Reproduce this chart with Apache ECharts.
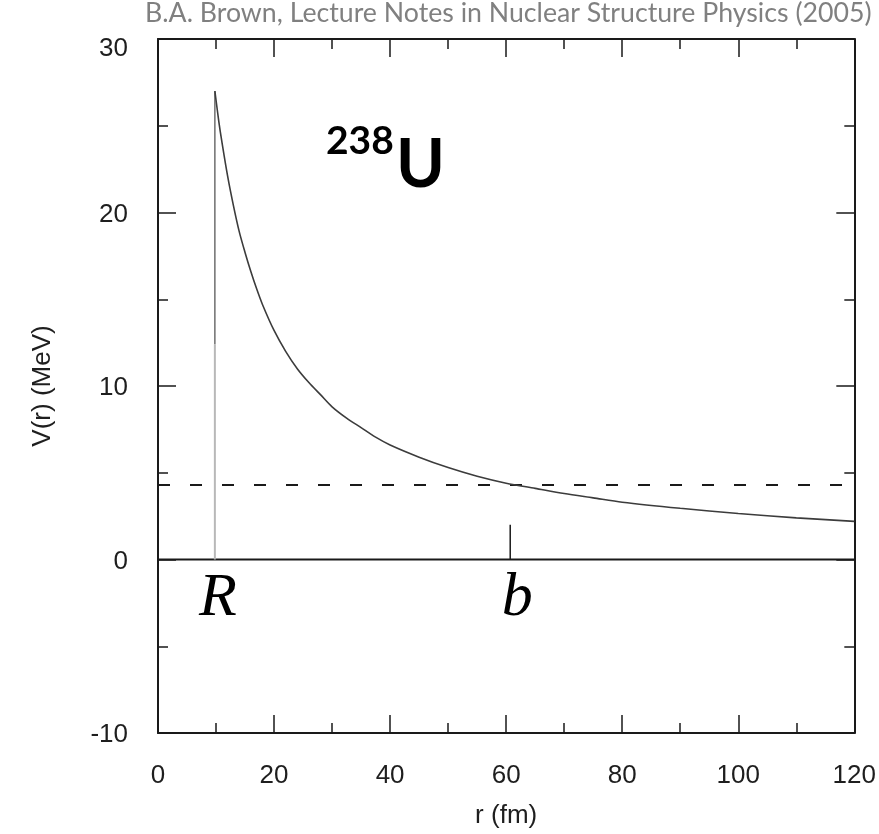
<!DOCTYPE html>
<html>
<head>
<meta charset="utf-8">
<script src="https://cdn.jsdelivr.net/npm/echarts@6/dist/echarts.min.js"></script>
<style>
  html, body { margin: 0; padding: 0; background: #ffffff; }
  #chart { width: 879px; height: 834px; }
</style>
</head>
<body>
<div id="chart"></div>
<script>
// Coulomb barrier of an alpha particle against the 238U daughter nucleus
const radiusFm = [9.8, 10.5, 11, 12, 13, 14, 15, 16, 17, 18, 20, 22, 24, 26, 28, 30, 32.5, 35, 37.5, 40, 45, 50, 55, 60, 65, 70, 75, 80, 90, 100, 110, 120];
const potentialMeV = [27.0, 25.2, 24.1, 22.1, 20.4, 18.9, 17.7, 16.6, 15.6, 14.7, 13.2, 12.0, 11.0, 10.2, 9.5, 8.8, 8.15, 7.6, 7.05, 6.6, 5.9, 5.3, 4.8, 4.4, 4.1, 3.8, 3.55, 3.3, 2.95, 2.65, 2.4, 2.2];

// nuclear surface R: the wall rises from 0 to the barrier top
const nuclearRadius = 9.8;
const wallLowerTop = 12.4;
const barrierTop = 27.0;

// alpha decay energy level and outer turning point b
const decayEnergy = 4.3;
const turningPoint = 60.7;
const turningTickHeight = 2.0;

const xRange = [0, 120];
const yRange = [-10, 30];
const xStep = 20;
const yStep = 10;

const titleText = 'B.A. Brown, Lecture Notes in Nuclear Structure Physics (2005)';
const xName = 'r (fm)';
const yName = 'V(r) (MeV)';
const massNumber = '238';
const element = 'U';

const chart = echarts.init(document.getElementById('chart'), null, { renderer: 'canvas' });

const curve = radiusFm.map((r, i) => [r, potentialMeV[i]]);

const tickFont = 'Liberation Sans, Arial, sans-serif';

function axisCommon(showLabels) {
  return {
    type: 'value',
    axisLine: { show: true, onZero: false, lineStyle: { color: '#1a1a1a', width: 2 } },
    axisTick: { show: true, inside: true, length: 18, lineStyle: { color: '#1a1a1a', width: 1.5 } },
    minorTick: { show: true, splitNumber: 2, length: 10, lineStyle: { color: '#1a1a1a', width: 1.5 } },
    splitLine: { show: false },
    minorSplitLine: { show: false },
    axisLabel: { show: showLabels, fontSize: 26, color: '#1e1e1e', fontFamily: tickFont, margin: 30 },
    nameTextStyle: { fontSize: 26, color: '#1e1e1e', fontFamily: tickFont }
  };
}

const yAxisLeft = Object.assign(axisCommon(true), {
  position: 'left', min: yRange[0], max: yRange[1], interval: yStep,
  name: yName, nameLocation: 'middle', nameGap: 102, nameRotate: 90
});
// the top label sits a little below the frame corner
yAxisLeft.axisLabel.formatter = (v) => (v === yRange[1] ? '{top|' + v + '}' : '{std|' + v + '}');
yAxisLeft.axisLabel.rich = {
  top: { fontSize: 26, fontFamily: tickFont, color: '#1e1e1e', padding: [20, 0, 0, 0] },
  std: { fontSize: 26, fontFamily: tickFont, color: '#1e1e1e', padding: [4, 0, 0, 0] }
};

const option = {
  animation: false,
  backgroundColor: '#ffffff',
  grid: { left: 158, right: 23, top: 39, bottom: 99, containLabel: false },
  xAxis: [
    Object.assign(axisCommon(true), {
      position: 'bottom', min: xRange[0], max: xRange[1], interval: xStep,
      name: xName, nameLocation: 'middle', nameGap: 70
    }),
    Object.assign(axisCommon(false), {
      position: 'top', min: xRange[0], max: xRange[1], interval: xStep
    })
  ],
  yAxis: [
    yAxisLeft,
    Object.assign(axisCommon(false), {
      position: 'right', min: yRange[0], max: yRange[1], interval: yStep
    })
  ],
  series: [
    {
      name: 'zero',
      type: 'line', silent: true, symbol: 'none',
      data: [[xRange[0], 0], [xRange[1], 0]],
      lineStyle: { color: '#1a1a1a', width: 2 }
    },
    {
      name: 'decay energy',
      type: 'line', silent: true, symbol: 'none',
      data: [[xRange[0], decayEnergy], [xRange[1], decayEnergy]],
      lineStyle: { color: '#1a1a1a', width: 2, type: [12, 20] }
    },
    {
      name: 'turning point',
      type: 'line', silent: true, symbol: 'none',
      data: [[turningPoint, 0], [turningPoint, turningTickHeight]],
      lineStyle: { color: '#1a1a1a', width: 1.5 }
    },
    {
      name: 'wall lower',
      type: 'line', silent: true, symbol: 'none',
      data: [[nuclearRadius, 0], [nuclearRadius, wallLowerTop]],
      lineStyle: { color: '#b8b8b8', width: 2 }
    },
    {
      name: 'wall upper',
      type: 'line', silent: true, symbol: 'none',
      data: [[nuclearRadius, wallLowerTop], [nuclearRadius, barrierTop]],
      lineStyle: { color: '#6e6e6e', width: 1.5 }
    },
    {
      name: 'Coulomb potential',
      type: 'line', silent: true, symbol: 'none',
      smooth: 0.3,
      data: curve,
      lineStyle: { color: '#3c3c3c', width: 1.6 }
    }
  ]
};

chart.setOption(option);

// fit the source line to the width above the frame
const measure = document.createElement('canvas').getContext('2d');
const titleFamily = 'Lato, "Open Sans", sans-serif';
measure.font = '24px Lato';
const titleWidth = measure.measureText(titleText).width;
const titleSize = Math.min(27, 24 * 727 / titleWidth);

const rPix = chart.convertToPixel({ xAxisIndex: 0, yAxisIndex: 0 }, [nuclearRadius, 0]);
const bPix = chart.convertToPixel({ xAxisIndex: 0, yAxisIndex: 0 }, [turningPoint, 0]);

chart.setOption({
  graphic: [
    {
      type: 'text', left: 145, top: 0, silent: true,
      style: { text: titleText, fontSize: titleSize, fontFamily: titleFamily, fill: '#808080' }
    },
    {
      type: 'text', left: 326, top: 122, silent: true,
      style: { text: massNumber, fontSize: 39, fontWeight: 'bold', fontFamily: titleFamily, fill: '#000000' }
    },
    {
      type: 'text', left: 396, top: 133, silent: true,
      style: { text: element, fontSize: 66, fontWeight: 'bold', fontFamily: titleFamily, fill: '#000000' }
    },
    {
      type: 'text', x: rPix[0] + 3, y: rPix[1] + 8, silent: true,
      style: { text: 'R', fontSize: 62, fontStyle: 'italic', fontFamily: 'Liberation Serif, serif', fill: '#000000', align: 'center', verticalAlign: 'top' }
    },
    {
      type: 'text', x: bPix[0] + 7, y: bPix[1] + 8, silent: true,
      style: { text: 'b', fontSize: 62, fontStyle: 'italic', fontFamily: 'Liberation Serif, serif', fill: '#000000', align: 'center', verticalAlign: 'top' }
    }
  ]
});
</script>
</body>
</html>
